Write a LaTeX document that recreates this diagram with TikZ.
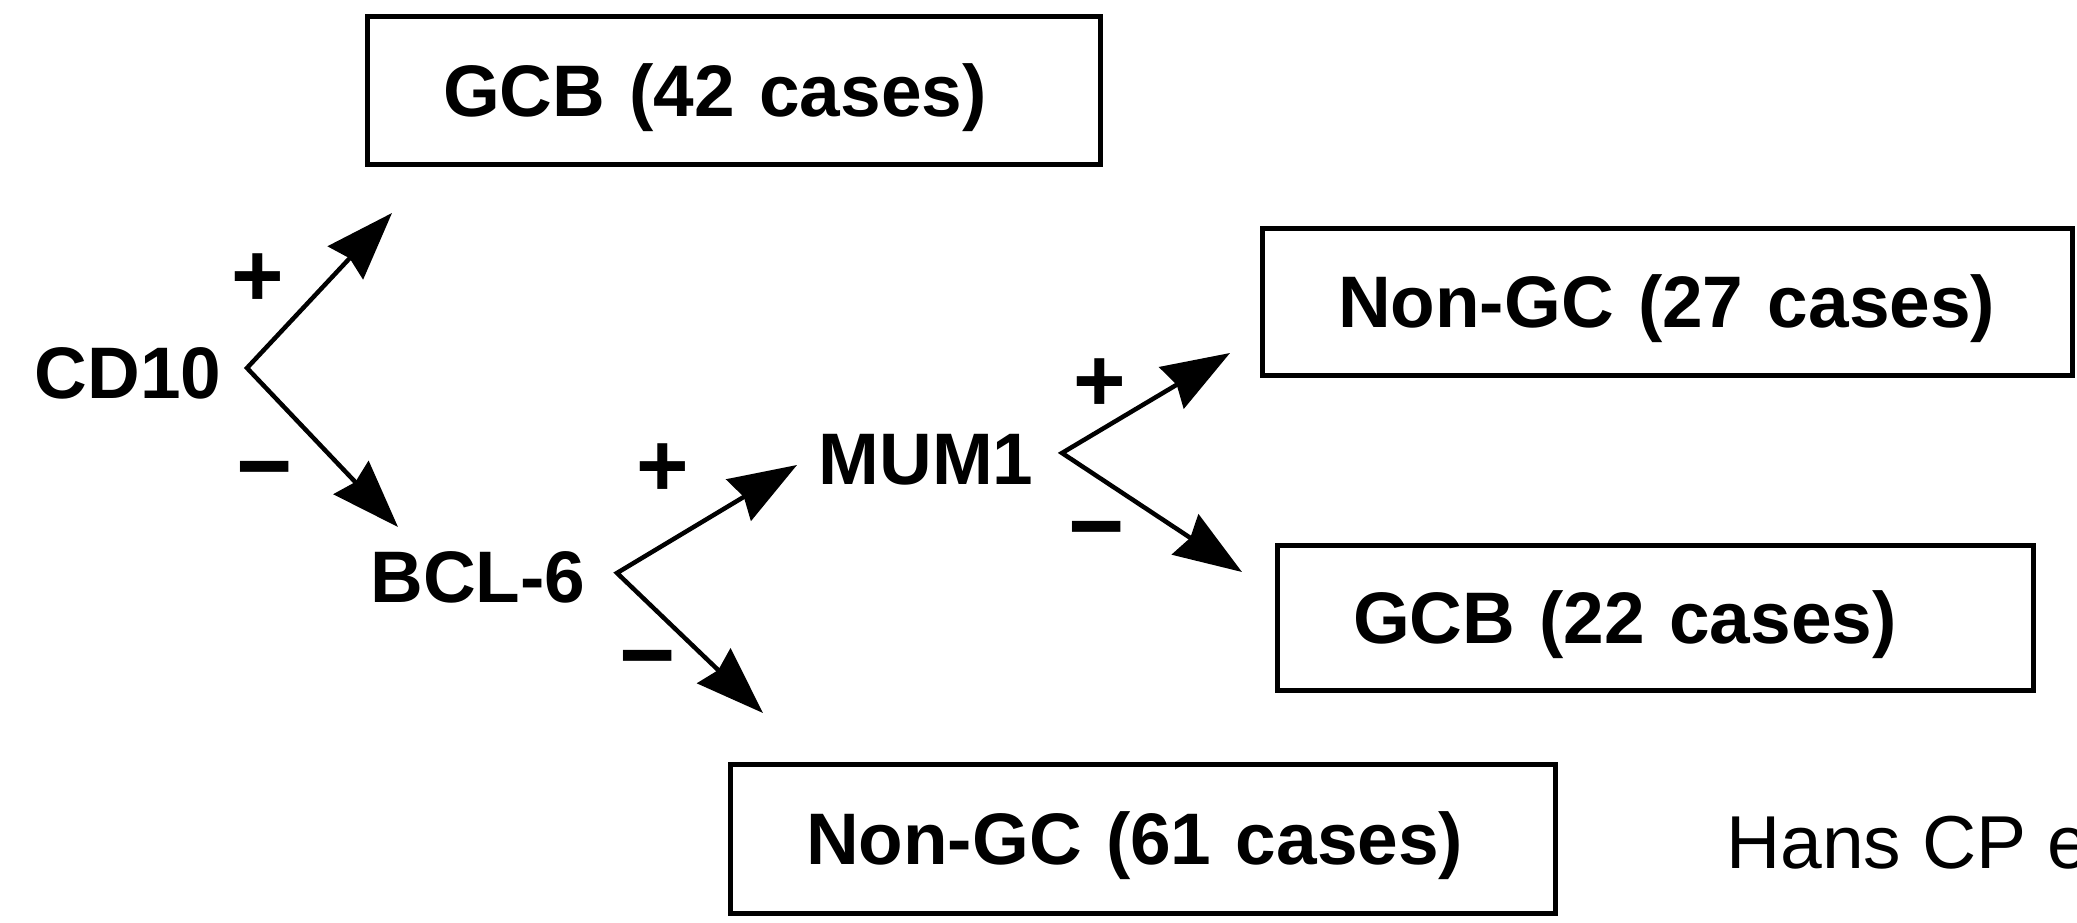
\documentclass[tikz,border=0pt]{standalone}
\usepackage{fontspec}
\setmainfont{Liberation Sans}
\usetikzlibrary{arrows.meta}
\begin{document}
\begin{tikzpicture}[x=1pt,y=-1pt,
  lbl/.style={font=\fontsize{73}{80}\selectfont\bfseries, inner sep=0pt, anchor=base},
  res/.style={draw, line width=5pt, font=\fontsize{73}{80}\selectfont\bfseries, align=left,
              inner xsep=76pt, inner ysep=0pt, text height=66pt, text depth=14pt},
  plussign/.style={font=\fontsize{90}{90}\selectfont\bfseries, inner sep=0pt, anchor=base},
  minussign/.style={font=\fontsize{85}{90}\selectfont\bfseries, inner sep=0pt, anchor=base},
  fork/.style={line width=4.5pt, line join=miter,
     {Stealth[length=68pt,width=48pt,inset=6pt]}-{Stealth[length=68pt,width=48pt,inset=6pt]}}]
\useasboundingbox (0,0) rectangle (2077,922);
\fill[white] (0,0) rectangle (2077,922);
\clip (0,0) rectangle (2077,922);

% result boxes
\node[res, text width=581pt, minimum height=148pt] (gcbA) at (733.5,90) {GCB (42 cases)};
\node[res, text width=658pt, minimum height=147pt] (ngcA) at (1667,301.5) {Non-GC (27 cases)};
\node[res, text width=604pt, minimum height=145pt] (gcbB) at (1655,617.5) {GCB (22 cases)};
\node[res, text width=673pt, minimum height=149pt] (ngcB) at (1142.5,838.5) {Non-GC (61 cases)};

% markers
\node[lbl] (cd10) at (128,398) {CD10};
\node[lbl] (bcl6) at (478,602) {BCL-6};
\node[lbl] (mum1) at (926,484) {MUM1};

% fork vertices and arrow tips
\coordinate (cdv) at (247,368);
\coordinate (cdu) at (392,213);
\coordinate (cdd) at (398,527);
\coordinate (bcv) at (617,573);
\coordinate (bcu) at (797,465);
\coordinate (bcd) at (763,713);
\coordinate (mmv) at (1062,453);
\coordinate (mmu) at (1230,353);
\coordinate (mmd) at (1242,572);

\draw[fork] (cdu) -- (cdv) -- (cdd);
\draw[fork] (bcu) -- (bcv) -- (bcd);
\draw[fork] (mmu) -- (mmv) -- (mmd);

% signs
\node[plussign] (p1) at (258,306) {+};
\node[minussign] (m1) at (265,496) {\scalebox{1.15}[1.3]{–}};
\node[plussign] (p2) at (663,496) {+};
\node[minussign] (m2) at (648,685) {\scalebox{1.15}[1.3]{–}};
\node[plussign] (p3) at (1100,411) {+};
\node[minussign] (m3) at (1097,556) {\scalebox{1.15}[1.3]{–}};

% citation
\node[font=\fontsize{75}{80}\selectfont, inner sep=0pt, anchor=base west] (cite) at (1726,868) {Hans CP e};
\end{tikzpicture}
\end{document}
